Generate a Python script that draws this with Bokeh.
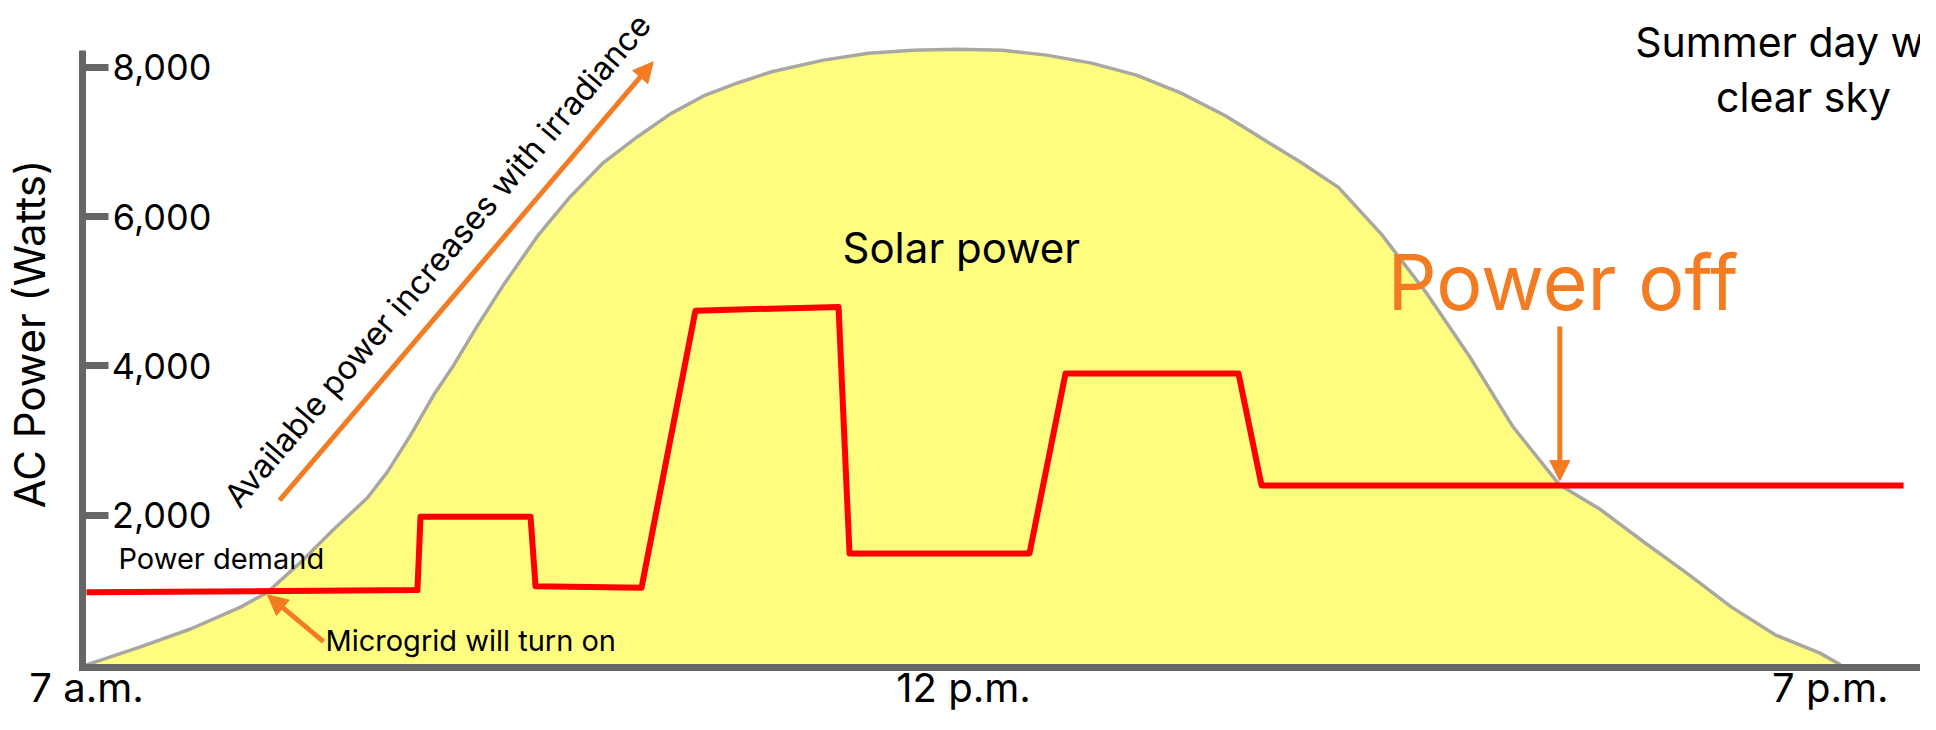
from bokeh.plotting import figure
from bokeh.models import Range1d, FixedTicker, Label, Arrow, NormalHead, NumeralTickFormatter
from bokeh.embed import file_html
from bokeh.resources import INLINE

# ---- data (time of day in hours: 7 = 7 a.m., 19 = 7 p.m.; power in watts) ----
solar_hours = [7.000, 7.369, 7.711, 8.054, 8.238, 8.464, 8.690, 8.922, 9.059, 9.217,
               9.374, 9.511, 9.675, 9.853, 10.085, 10.311, 10.537, 10.770, 10.995, 11.221,
               11.454, 11.680, 12.042, 12.350, 12.651, 12.959, 13.267, 13.568, 13.876, 14.183,
               14.485, 14.792, 15.100, 15.305, 15.565, 15.860, 16.161, 16.462, 16.756, 17.077,
               17.358, 17.659, 17.960, 18.254, 18.555, 18.856, 19.000]
solar_watts = [0, 240, 479, 772, 972, 1371, 1810, 2236, 2582, 3075,
               3607, 4007, 4539, 5085, 5737, 6269, 6722, 7068, 7374, 7614,
               7787, 7933, 8093, 8186, 8226, 8240, 8226, 8160, 8053, 7893,
               7654, 7348, 6975, 6730, 6390, 5760, 4992, 4126, 3195, 2409,
               2077, 1637, 1211, 772, 399, 160, 0]

demand_hours = [7.0, 9.264, 9.285, 10.038, 10.072, 10.797, 11.166, 12.145, 12.220,
                13.451, 13.698, 14.881, 15.039, 19.431]
demand_watts = [970, 1000, 1980, 1980, 1050, 1030, 4740, 4790, 1490,
                1490, 3900, 3900, 2400, 2400]

y_ticks = [2000, 4000, 6000, 8000]
x_tick_pos = [7, 13, 18.93]
x_tick_labels = ["7 a.m.", "12 p.m.", "7 p.m."]

FONT = "Inter"
ORANGE = "#F37B21"
AXIS = "#666666"

p = figure(width=1920, height=714,
           x_range=Range1d(6.97263, 19.5470), y_range=Range1d(-36, 8891),
           output_backend="svg", toolbar_location=None,
           min_border_left=82, min_border_right=0, min_border_top=0, min_border_bottom=43)
p.outline_line_color = None
p.grid.visible = False
p.background_fill_color = "white"
p.border_fill_color = "white"

# solar power area and outline
p.varea(x=solar_hours, y1=0, y2=solar_watts, fill_color="#FFFD80")
p.line(solar_hours, solar_watts, line_color="#A8A8A0", line_width=3.5)
# power demand
p.line(demand_hours, demand_watts, line_color="#FF0000", line_width=6, line_join="round")

# y axis: ticks and labels drawn to the right of the axis line
yax = p.yaxis[0]
yax.bounds = (-36, 8226)
yax.ticker = FixedTicker(ticks=y_ticks)
yax.formatter = NumeralTickFormatter(format="0,0")
yax.axis_line_color = AXIS
yax.axis_line_width = 7
yax.major_tick_line_color = AXIS
yax.major_tick_line_width = 7
yax.major_tick_in = 26
yax.major_tick_out = 0
yax.minor_tick_line_color = None
yax.major_label_standoff = -129
yax.major_label_text_font = FONT
yax.major_label_text_font_size = "36px"
yax.major_label_text_color = "black"
yax.axis_label = "AC Power (Watts)"
yax.axis_label_text_font = FONT
yax.axis_label_text_font_size = "42px"
yax.axis_label_text_font_style = "normal"
yax.axis_label_text_color = "black"
yax.axis_label_standoff = 54

xax = p.xaxis[0]
xax.ticker = FixedTicker(ticks=x_tick_pos)
xax.major_label_overrides = dict(zip(x_tick_pos, x_tick_labels))
xax.axis_line_color = AXIS
xax.axis_line_width = 7
xax.axis_line_cap = "square"
xax.major_tick_in = 0
xax.major_tick_out = 0
xax.minor_tick_line_color = None
xax.major_label_standoff = -5
xax.major_label_text_line_height = 1.0
xax.major_label_text_font = FONT
xax.major_label_text_font_size = "40px"
xax.major_label_text_color = "black"

# annotations
def lab(x, y, text, size, color="black", **kw):
    p.add_layout(Label(x=x, y=y, text=text, text_font=FONT, text_font_size=size,
                       text_color=color, **kw))

lab(7.2189, 1188, "Power demand", "29px")
lab(8.6351, 97, "Microgrid will turn on", "29px")
lab(12.172, 5246, "Solar power", "42px")
lab(15.9007, 4501, "Power off", "77px", color=ORANGE)
lab(8.0898, 2005, "Available power increases with irradiance", "32.5px",
    angle=49.5, angle_units="deg")
lab(18.7466, 8003, "Summer day with", "41px", text_align="center")
lab(18.7466, 7260, "clear sky", "41px", text_align="center")

def arrow(x0, y0, x1, y1):
    p.add_layout(Arrow(x_start=x0, y_start=y0, x_end=x1, y_end=y1,
                       line_color=ORANGE, line_width=5,
                       end=NormalHead(size=20, fill_color=ORANGE, line_color=ORANGE,
                                      line_width=1)))

arrow(8.3204, 2200, 10.877, 8070)
arrow(8.6214, 310, 8.2383, 935)
arrow(17.0794, 4527, 17.0794, 2465)

open("out.html", "w").write(file_html(p, INLINE))
